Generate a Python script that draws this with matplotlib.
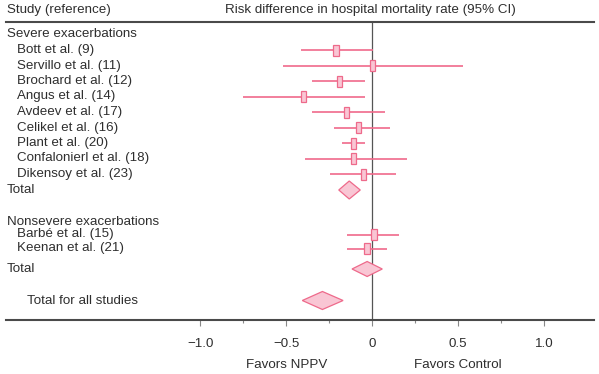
import matplotlib
matplotlib.use("Agg")
import matplotlib.pyplot as plt
from matplotlib.patches import Rectangle, Polygon

plt.rcParams['font.family'] = ['Liberation Sans', 'DejaVu Sans']

# ---- data ----
severe_studies = ["Bott et al. (9)", "Servillo et al. (11)", "Brochard et al. (12)",
                  "Angus et al. (14)", "Avdeev et al. (17)", "Celikel et al. (16)",
                  "Plant et al. (20)", "Confalonierl et al. (18)", "Dikensoy et al. (23)"]
severe_est = [-0.21, 0.00, -0.19, -0.40, -0.15, -0.08, -0.11, -0.11, -0.05]
severe_lo = [-0.415, -0.52, -0.35, -0.75, -0.35, -0.225, -0.175, -0.39, -0.245]
severe_hi = [0.005, 0.525, -0.04, -0.04, 0.075, 0.105, -0.04, 0.20, 0.135]
severe_total = (-0.134, -0.195, -0.07)

nonsevere_studies = ["Barbé et al. (15)", "Keenan et al. (21)"]
nonsevere_est = [0.01, -0.03]
nonsevere_lo = [-0.145, -0.145]
nonsevere_hi = [0.155, 0.085]
nonsevere_total = (-0.03, -0.118, 0.058)

all_total = (-0.29, -0.407, -0.17)

xticks = [-1.0, -0.5, 0.0, 0.5, 1.0]
xtick_labels = ["\u22121.0", "\u22120.5", "0", "0.5", "1.0"]
minor_ticks = [-0.75, -0.25, 0.25, 0.75]

# ---- layout (pixel rows) ----
W, H = 599, 374
y_severe_head = 34
y_severe = [50, 65.5, 81, 96.5, 112, 127.5, 143, 158.5, 174]
y_severe_total = 190
y_non_head = 222
y_non = [234.5, 248.5]
y_non_total = 269
y_all = 300.5

line_col = "#f06a8b"
box_face = "#f9c6d4"
box_edge = "#ee6a8b"
txt_col = "#2e2e2e"
ax_col = "#4a4a4a"
fs = 9.6

fig = plt.figure(figsize=(W / 100, H / 100), dpi=100)
left_px, right_px, top_px, bot_px = 6, 594, 22, 320
ax = fig.add_axes([left_px / W, 1 - bot_px / H, (right_px - left_px) / W, (bot_px - top_px) / H])
x0_px, scale = 372.3, 172.0
ax.set_xlim((left_px - x0_px) / scale, (right_px - x0_px) / scale)
ax.set_ylim(bot_px, top_px)
xmin = (left_px - x0_px) / scale
px = 1.0 / scale  # one pixel in x data units

for s in ["left", "right"]:
    ax.spines[s].set_visible(False)
for s in ["top", "bottom"]:
    ax.spines[s].set_linewidth(1.5)
    ax.spines[s].set_color(ax_col)
ax.set_yticks([])
ax.set_xticks(xticks)
ax.set_xticklabels(xtick_labels, fontsize=fs, color=txt_col)
ax.set_xticks(minor_ticks, minor=True)
ax.tick_params(axis="x", which="major", length=4, width=0.8, color="#888888", pad=9)
ax.tick_params(axis="x", which="minor", length=2.5, width=0.8, color="#888888")

ax.axvline(0, color="#555555", lw=0.9, zorder=1)


def study(y, est, lo, hi):
    ax.plot([lo, hi], [y, y], color=line_col, lw=1.2, zorder=2, solid_capstyle="butt")
    w, h = 5.5 * px, 11
    ax.add_patch(Rectangle((est - w / 2, y - h / 2), w, h, facecolor=box_face,
                           edgecolor=box_edge, lw=0.9, zorder=3))


def diamond(y, tot, half_h):
    est, lo, hi = tot
    ax.add_patch(Polygon([(lo, y), (est, y - half_h), (hi, y), (est, y + half_h)],
                         closed=True, facecolor=box_face, edgecolor=box_edge, lw=0.9, zorder=3))


for y, e, l, h in zip(y_severe, severe_est, severe_lo, severe_hi):
    study(y, e, l, h)
diamond(y_severe_total, severe_total, 9)
for y, e, l, h in zip(y_non, nonsevere_est, nonsevere_lo, nonsevere_hi):
    study(y, e, l, h)
diamond(y_non_total, nonsevere_total, 7.5)
diamond(y_all, all_total, 9)

x_l0 = xmin + 1 * px
x_l1 = xmin + 11 * px
x_l2 = xmin + 21 * px


def label(x, y, t):
    ax.text(x, y, t, fontsize=fs, color=txt_col, va="center", ha="left", clip_on=False)


label(x_l0, 10, "Study (reference)")
ax.text(-0.01, 10, "Risk difference in hospital mortality rate (95% CI)", fontsize=fs,
        color=txt_col, va="center", ha="center", clip_on=False)
label(x_l0, y_severe_head, "Severe exacerbations")
for y, t in zip(y_severe, severe_studies):
    label(x_l1, y, t)
label(x_l0, y_severe_total, "Total")
label(x_l0, y_non_head, "Nonsevere exacerbations")
for y, t in zip(y_non, nonsevere_studies):
    label(x_l1, y, t)
label(x_l0, y_non_total, "Total")
label(x_l2, y_all, "Total for all studies")

ax.text(-0.5, 365, "Favors NPPV", fontsize=fs, color=txt_col, va="center", ha="center", clip_on=False)
ax.text(0.5, 365, "Favors Control", fontsize=fs, color=txt_col, va="center", ha="center", clip_on=False)

fig.savefig("out.png", dpi=100)
